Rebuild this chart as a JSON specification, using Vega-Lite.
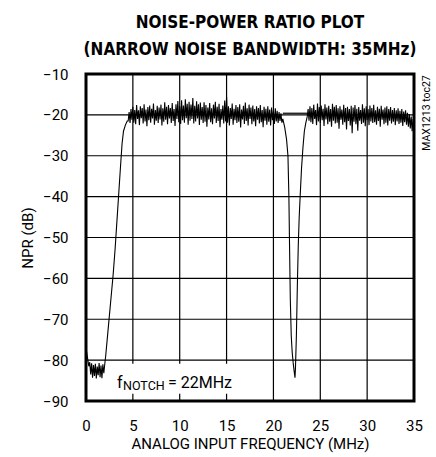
{
  "$schema": "https://vega.github.io/schema/vega-lite/v6.json",
  "width": 328,
  "height": 327,
  "autosize": {"type": "none"},
  "padding": {"left": 86, "top": 74, "right": 22, "bottom": 56},
  "background": "white",
  "title": {
    "text": ["NOISE-POWER RATIO PLOT", "(NARROW NOISE BANDWIDTH: 35MHz)"],
    "font": "DejaVu Sans Condensed",
    "fontSize": 17,
    "fontWeight": "bold",
    "color": "#000",
    "lineHeight": 27,
    "anchor": "middle",
    "frame": "group",
    "offset": 8
  },
  "config": {
    "view": {"stroke": "#000", "strokeWidth": 3},
    "axis": {
      "domain": false,
      "ticks": false,
      "grid": false,
      "labelFlush": false,
      "labelFont": "Roboto",
      "labelFontSize": 15,
      "labelColor": "#000",
      "titleFont": "Roboto",
      "titleFontSize": 15,
      "titleFontWeight": "normal",
      "titleColor": "#000"
    }
  },
  "datasets": {
    "grid": [
      {"g":"v5","x":5,"y":-90},{"g":"v5","x":5,"y":-10},
      {"g":"v10","x":10,"y":-90},{"g":"v10","x":10,"y":-10},
      {"g":"v15","x":15,"y":-90},{"g":"v15","x":15,"y":-10},
      {"g":"v20","x":20,"y":-90},{"g":"v20","x":20,"y":-10},
      {"g":"v25","x":25,"y":-90},{"g":"v25","x":25,"y":-10},
      {"g":"v30","x":30,"y":-90},{"g":"v30","x":30,"y":-10},
      {"g":"h80","x":0,"y":-80},{"g":"h80","x":35,"y":-80},
      {"g":"h70","x":0,"y":-70},{"g":"h70","x":35,"y":-70},
      {"g":"h60","x":0,"y":-60},{"g":"h60","x":35,"y":-60},
      {"g":"h50","x":0,"y":-50},{"g":"h50","x":35,"y":-50},
      {"g":"h40","x":0,"y":-40},{"g":"h40","x":35,"y":-40},
      {"g":"h30","x":0,"y":-30},{"g":"h30","x":35,"y":-30},
      {"g":"h20","x":0,"y":-20},{"g":"h20","x":35,"y":-20}
    ],
    "npr": [
      {"f":0.0,"n":-77.0},{"f":0.1,"n":-78.5},{"f":0.2,"n":-80.0},{"f":0.3,"n":-81.5},{"f":0.4,"n":-80.5},{"f":0.5,"n":-83.5},{"f":0.6,"n":-80.8},{"f":0.7,"n":-84.3},{"f":0.8,"n":-81.2},{"f":0.9,"n":-83.9},{"f":1.0,"n":-80.9},{"f":1.1,"n":-84.5},{"f":1.2,"n":-81.6},{"f":1.3,"n":-83.7},{"f":1.4,"n":-80.7},{"f":1.5,"n":-84.2},{"f":1.6,"n":-81.3},{"f":1.7,"n":-84.4},{"f":1.8,"n":-81.0},{"f":1.9,"n":-83.2},{"f":2.0,"n":-81.0},{"f":2.1,"n":-79.0},{"f":2.3,"n":-74.0},{"f":2.5,"n":-69.0},{"f":2.7,"n":-64.0},{"f":2.9,"n":-59.0},{"f":3.1,"n":-53.0},{"f":3.3,"n":-46.0},{"f":3.5,"n":-39.0},{"f":3.7,"n":-32.0},{"f":3.85,"n":-27.0},{"f":4.0,"n":-24.0},{"f":4.2,"n":-22.5},{"f":4.4,"n":-21.5},
      {"f":4.5,"n":-21.5},{"f":4.6,"n":-19.3},{"f":4.7,"n":-22.0},{"f":4.8,"n":-18.6},{"f":4.9,"n":-21.2},{"f":5.0,"n":-18.0},{"f":5.1,"n":-21.9},{"f":5.2,"n":-18.8},{"f":5.3,"n":-22.3},{"f":5.4,"n":-17.6},{"f":5.5,"n":-21.0},{"f":5.6,"n":-18.9},{"f":5.7,"n":-22.5},{"f":5.8,"n":-17.9},{"f":5.9,"n":-20.8},{"f":6.0,"n":-18.3},{"f":6.1,"n":-22.1},{"f":6.2,"n":-17.4},{"f":6.3,"n":-21.6},{"f":6.4,"n":-18.7},{"f":6.5,"n":-22.8},{"f":6.6,"n":-18.1},{"f":6.7,"n":-21.3},{"f":6.8,"n":-17.7},{"f":6.9,"n":-21.9},{"f":7.0,"n":-18.5},{"f":7.1,"n":-20.9},{"f":7.2,"n":-17.2},{"f":7.3,"n":-22.4},{"f":7.4,"n":-18.8},{"f":7.5,"n":-21.4},{"f":7.6,"n":-17.8},{"f":7.7,"n":-22.0},{"f":7.8,"n":-18.2},{"f":7.9,"n":-21.1},{"f":8.0,"n":-17.5},{"f":8.1,"n":-22.6},{"f":8.2,"n":-18.4},{"f":8.3,"n":-21.7},{"f":8.4,"n":-16.9},{"f":8.5,"n":-21.2},{"f":8.6,"n":-18.0},{"f":8.7,"n":-22.3},{"f":8.8,"n":-17.6},{"f":8.9,"n":-20.9},{"f":9.0,"n":-18.3},{"f":9.1,"n":-22.0},{"f":9.2,"n":-17.1},{"f":9.3,"n":-21.5},{"f":9.4,"n":-18.6},{"f":9.5,"n":-22.7},{"f":9.6,"n":-17.4},{"f":9.7,"n":-21.0},{"f":9.8,"n":-16.6},{"f":9.9,"n":-21.8},{"f":10.0,"n":-17.9},{"f":10.1,"n":-22.2},{"f":10.2,"n":-16.4},{"f":10.3,"n":-21.3},{"f":10.4,"n":-17.7},{"f":10.5,"n":-21.9},{"f":10.6,"n":-16.2},{"f":10.7,"n":-20.8},{"f":10.8,"n":-17.3},{"f":10.9,"n":-22.4},{"f":11.0,"n":-16.8},{"f":11.1,"n":-21.4},{"f":11.2,"n":-17.5},{"f":11.3,"n":-21.0},{"f":11.4,"n":-15.9},{"f":11.5,"n":-22.1},{"f":11.6,"n":-17.8},{"f":11.7,"n":-21.6},{"f":11.8,"n":-16.7},{"f":11.9,"n":-20.9},{"f":12.0,"n":-17.4},{"f":12.1,"n":-22.5},{"f":12.2,"n":-17.0},{"f":12.3,"n":-21.2},{"f":12.4,"n":-18.1},{"f":12.5,"n":-22.0},{"f":12.6,"n":-16.9},{"f":12.7,"n":-21.7},{"f":12.8,"n":-17.6},{"f":12.9,"n":-22.9},{"f":13.0,"n":-18.2},{"f":13.1,"n":-21.1},{"f":13.2,"n":-17.1},{"f":13.3,"n":-21.8},{"f":13.4,"n":-18.4},{"f":13.5,"n":-22.3},{"f":13.6,"n":-17.5},{"f":13.7,"n":-20.9},{"f":13.8,"n":-16.8},{"f":13.9,"n":-22.0},{"f":14.0,"n":-18.0},{"f":14.1,"n":-21.5},{"f":14.2,"n":-17.3},{"f":14.3,"n":-23.0},{"f":14.4,"n":-18.6},{"f":14.5,"n":-21.2},{"f":14.6,"n":-17.7},{"f":14.7,"n":-22.1},{"f":14.8,"n":-16.5},{"f":14.9,"n":-21.6},{"f":15.0,"n":-15.6},{"f":15.1,"n":-21.9},{"f":15.2,"n":-17.9},{"f":15.3,"n":-22.6},{"f":15.4,"n":-18.3},{"f":15.5,"n":-21.0},{"f":15.6,"n":-17.2},{"f":15.7,"n":-22.4},{"f":15.8,"n":-18.5},{"f":15.9,"n":-21.3},{"f":16.0,"n":-17.6},{"f":16.1,"n":-22.0},{"f":16.2,"n":-18.1},{"f":16.3,"n":-21.7},{"f":16.4,"n":-17.4},{"f":16.5,"n":-23.1},{"f":16.6,"n":-18.7},{"f":16.7,"n":-21.1},{"f":16.8,"n":-17.8},{"f":16.9,"n":-22.2},{"f":17.0,"n":-17.0},{"f":17.1,"n":-21.5},{"f":17.2,"n":-18.4},{"f":17.3,"n":-22.6},{"f":17.4,"n":-17.5},{"f":17.5,"n":-21.0},{"f":17.6,"n":-18.2},{"f":17.7,"n":-22.3},{"f":17.8,"n":-17.7},{"f":17.9,"n":-21.6},{"f":18.0,"n":-18.6},{"f":18.1,"n":-22.8},{"f":18.2,"n":-17.9},{"f":18.3,"n":-21.2},{"f":18.4,"n":-18.3},{"f":18.5,"n":-22.1},{"f":18.6,"n":-17.6},{"f":18.7,"n":-21.8},{"f":18.8,"n":-18.8},{"f":18.9,"n":-23.0},{"f":19.0,"n":-18.0},{"f":19.1,"n":-21.4},{"f":19.2,"n":-18.5},{"f":19.3,"n":-22.4},{"f":19.4,"n":-17.9},{"f":19.5,"n":-21.7},{"f":19.6,"n":-18.7},{"f":19.7,"n":-22.6},{"f":19.8,"n":-18.2},{"f":19.9,"n":-21.3},{"f":20.0,"n":-18.9},{"f":20.1,"n":-22.2},{"f":20.2,"n":-18.4},{"f":20.3,"n":-21.6},{"f":20.4,"n":-19.0},{"f":20.5,"n":-22.0},{"f":20.6,"n":-19.3},{"f":20.7,"n":-21.5},{"f":20.8,"n":-19.6},{"f":20.9,"n":-21.9},{"f":21.0,"n":-21.0},
      {"f":21.2,"n":-23.0},{"f":21.4,"n":-26.0},{"f":21.55,"n":-30.0},{"f":21.65,"n":-40.0},{"f":21.72,"n":-52.0},{"f":21.8,"n":-65.0},{"f":21.9,"n":-74.0},{"f":22.0,"n":-78.0},{"f":22.1,"n":-80.5},{"f":22.2,"n":-82.5},{"f":22.3,"n":-84.3},{"f":22.35,"n":-82.0},{"f":22.45,"n":-74.0},{"f":22.55,"n":-62.0},{"f":22.65,"n":-52.0},{"f":22.75,"n":-45.0},{"f":22.85,"n":-40.0},{"f":23.0,"n":-33.0},{"f":23.15,"n":-28.0},{"f":23.3,"n":-24.0},{"f":23.45,"n":-22.0},{"f":23.6,"n":-20.5},
      {"f":23.7,"n":-18.6},{"f":23.8,"n":-21.4},{"f":23.9,"n":-17.9},{"f":24.0,"n":-21.8},{"f":24.1,"n":-18.3},{"f":24.2,"n":-22.2},{"f":24.3,"n":-17.5},{"f":24.4,"n":-21.0},{"f":24.5,"n":-18.8},{"f":24.6,"n":-22.5},{"f":24.7,"n":-17.2},{"f":24.8,"n":-21.6},{"f":24.9,"n":-18.1},{"f":25.0,"n":-22.0},{"f":25.1,"n":-17.7},{"f":25.2,"n":-21.3},{"f":25.3,"n":-18.5},{"f":25.4,"n":-22.7},{"f":25.5,"n":-17.4},{"f":25.6,"n":-21.1},{"f":25.7,"n":-18.2},{"f":25.8,"n":-22.3},{"f":25.9,"n":-17.8},{"f":26.0,"n":-21.7},{"f":26.1,"n":-18.6},{"f":26.2,"n":-22.9},{"f":26.3,"n":-17.3},{"f":26.4,"n":-21.4},{"f":26.5,"n":-18.0},{"f":26.6,"n":-22.1},{"f":26.7,"n":-17.6},{"f":26.8,"n":-21.9},{"f":26.9,"n":-18.4},{"f":27.0,"n":-23.4},{"f":27.1,"n":-17.9},{"f":27.2,"n":-21.2},{"f":27.3,"n":-18.7},{"f":27.4,"n":-22.4},{"f":27.5,"n":-17.5},{"f":27.6,"n":-21.8},{"f":27.7,"n":-18.3},{"f":27.8,"n":-23.6},{"f":27.9,"n":-18.0},{"f":28.0,"n":-21.5},{"f":28.1,"n":-18.6},{"f":28.2,"n":-22.6},{"f":28.3,"n":-17.8},{"f":28.4,"n":-24.5},{"f":28.5,"n":-18.2},{"f":28.6,"n":-21.7},{"f":28.7,"n":-17.6},{"f":28.8,"n":-22.3},{"f":28.9,"n":-18.5},{"f":29.0,"n":-23.9},{"f":29.1,"n":-18.1},{"f":29.2,"n":-21.4},{"f":29.3,"n":-18.8},{"f":29.4,"n":-22.2},{"f":29.5,"n":-17.4},{"f":29.6,"n":-21.9},{"f":29.7,"n":-18.4},{"f":29.8,"n":-22.8},{"f":29.9,"n":-17.9},{"f":30.0,"n":-21.3},{"f":30.1,"n":-18.6},{"f":30.2,"n":-22.5},{"f":30.3,"n":-17.7},{"f":30.4,"n":-21.6},{"f":30.5,"n":-18.3},{"f":30.6,"n":-22.0},{"f":30.7,"n":-17.5},{"f":30.8,"n":-21.8},{"f":30.9,"n":-18.9},{"f":31.0,"n":-22.4},{"f":31.1,"n":-18.0},{"f":31.2,"n":-21.5},{"f":31.3,"n":-18.5},{"f":31.4,"n":-22.9},{"f":31.5,"n":-17.8},{"f":31.6,"n":-21.2},{"f":31.7,"n":-18.7},{"f":31.8,"n":-22.3},{"f":31.9,"n":-18.2},{"f":32.0,"n":-21.9},{"f":32.1,"n":-17.9},{"f":32.2,"n":-22.6},{"f":32.3,"n":-18.6},{"f":32.4,"n":-21.4},{"f":32.5,"n":-18.1},{"f":32.6,"n":-22.1},{"f":32.7,"n":-18.8},{"f":32.8,"n":-21.7},{"f":32.9,"n":-18.3},{"f":33.0,"n":-22.5},{"f":33.1,"n":-18.9},{"f":33.2,"n":-21.6},{"f":33.3,"n":-18.4},{"f":33.4,"n":-22.2},{"f":33.5,"n":-19.0},{"f":33.6,"n":-21.9},{"f":33.7,"n":-18.6},{"f":33.8,"n":-22.7},{"f":33.9,"n":-19.2},{"f":34.0,"n":-21.8},{"f":34.1,"n":-18.9},{"f":34.2,"n":-22.4},{"f":34.3,"n":-19.5},{"f":34.4,"n":-22.9},{"f":34.5,"n":-19.8},{"f":34.6,"n":-23.3},{"f":34.7,"n":-20.4},{"f":34.8,"n":-24.0},{"f":34.9,"n":-21.0},{"f":35.0,"n":-23.2}
    ],
    "flat": [{"f":21.0,"n":-19.6},{"f":23.6,"n":-19.6}]
  },
  "layer": [
    {
      "data": {"name": "grid"},
      "mark": {"type": "line", "color": "#000", "strokeWidth": 1.2},
      "encoding": {
        "x": {"field": "x", "type": "quantitative", "scale": {"domain": [0, 35], "nice": false}, "axis": {"values": [0,5,10,15,20,25,30,35], "title": "ANALOG INPUT FREQUENCY (MHz)", "labelPadding": 17, "titlePadding": 3}},
        "y": {"field": "y", "type": "quantitative", "scale": {"domain": [-90, -10], "nice": false}, "axis": {"values": [-90,-80,-70,-60,-50,-40,-30,-20,-10], "title": "NPR (dB)", "labelPadding": 18, "titlePadding": 7}},
        "detail": {"field": "g", "type": "nominal"}
      }
    },
    {
      "data": {"values": [{"x1": 2.3, "x2": 15.3, "y1": -80.9, "y2": -88.2}]},
      "mark": {"type": "rect", "color": "white", "opacity": 1},
      "encoding": {
        "x": {"field": "x1", "type": "quantitative"},
        "x2": {"field": "x2"},
        "y": {"field": "y1", "type": "quantitative"},
        "y2": {"field": "y2"}
      }
    },
    {
      "data": {"name": "npr"},
      "mark": {"type": "line", "color": "#000", "strokeWidth": 1.1},
      "encoding": {
        "x": {"field": "f", "type": "quantitative"},
        "y": {"field": "n", "type": "quantitative"}
      }
    },
    {
      "data": {"name": "flat"},
      "mark": {"type": "line", "color": "#000", "strokeWidth": 1.2},
      "encoding": {
        "x": {"field": "f", "type": "quantitative"},
        "y": {"field": "n", "type": "quantitative"}
      }
    },
    {
      "data": {"values": [{"x": 3.3, "y": -86.8, "t": "f"}]},
      "mark": {"type": "text", "font": "Roboto", "fontSize": 16, "align": "left", "baseline": "alphabetic", "color": "#000"},
      "encoding": {"x": {"field": "x", "type": "quantitative"}, "y": {"field": "y", "type": "quantitative"}, "text": {"field": "t"}}
    },
    {
      "data": {"values": [{"x": 3.95, "y": -87.4, "t": "NOTCH"}]},
      "mark": {"type": "text", "font": "Roboto", "fontSize": 12.5, "align": "left", "baseline": "alphabetic", "color": "#000"},
      "encoding": {"x": {"field": "x", "type": "quantitative"}, "y": {"field": "y", "type": "quantitative"}, "text": {"field": "t"}}
    },
    {
      "data": {"values": [{"x": 8.75, "y": -86.8, "t": "= 22MHz"}]},
      "mark": {"type": "text", "font": "Roboto", "fontSize": 16, "align": "left", "baseline": "alphabetic", "color": "#000"},
      "encoding": {"x": {"field": "x", "type": "quantitative"}, "y": {"field": "y", "type": "quantitative"}, "text": {"field": "t"}}
    },
    {
      "data": {"values": [{"x": 36.4, "y": -10.3, "t": "MAX1213 toc27"}]},
      "mark": {"type": "text", "font": "Roboto", "fontSize": 10.5, "angle": 270, "align": "right", "baseline": "middle", "color": "#000"},
      "encoding": {"x": {"field": "x", "type": "quantitative"}, "y": {"field": "y", "type": "quantitative"}, "text": {"field": "t"}}
    }
  ]
}
